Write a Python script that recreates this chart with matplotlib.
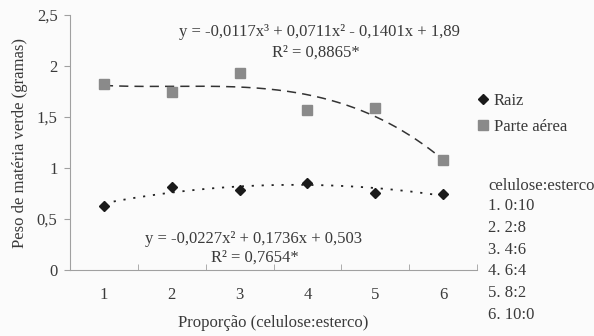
import numpy as np
import matplotlib
matplotlib.use("Agg")
import matplotlib.pyplot as plt
from matplotlib.ticker import FixedLocator

plt.rcParams["font.family"] = ["Liberation Serif", "DejaVu Serif"]

x = [1, 2, 3, 4, 5, 6]
raiz = [0.63, 0.81, 0.78, 0.85, 0.755, 0.745]
parte_aerea = [1.82, 1.75, 1.93, 1.57, 1.59, 1.08]
# coeficientes das linhas de tendência (como nas equações)
coef_aerea = [-0.0117, 0.0711, -0.1401, 1.89]
coef_raiz = [-0.0227, 0.1736, 0.503]
proporcoes = ["0:10", "2:8", "4:6", "6:4", "8:2", "10:0"]

txt = "#3a3a3a"
fs = 12
fig = plt.figure(figsize=(5.94, 3.36), dpi=100)
fig.patch.set_facecolor("#fbfbfb")
ax = fig.add_axes([70 / 594, 66 / 336, 407 / 594, 255 / 336])
ax.set_facecolor("#fbfbfb")

xs = np.linspace(1, 6, 200)
ax.plot(xs, np.polyval(coef_aerea, xs), ls=(0, (6, 4)), color="#333333", lw=1.1)
ax.plot(xs, np.polyval(coef_raiz, xs), ls=(0, (1.2, 4.3)), color="#222222", lw=1.3)
ax.plot(x, parte_aerea, ls="none", marker="s", ms=7, color="#8a8a8a",
        label="Parte aérea", zorder=3)
ax.plot(x, raiz, ls="none", marker="D", ms=5.5, color="#1a1a1a",
        label="Raiz", zorder=3)

ax.set_xlim(0.5, 6.5)
ax.set_ylim(0, 2.5)
ax.set_yticks([0, 0.5, 1, 1.5, 2, 2.5])
ax.set_yticklabels(["0", "0,5", "1", "1,5", "2", "2,5"])
ax.set_xticks(x)
ax.xaxis.set_minor_locator(FixedLocator([0.5, 1.5, 2.5, 3.5, 4.5, 5.5, 6.5]))
ax.tick_params(axis="x", which="major", length=0, pad=12, labelsize=fs, colors=txt)
ax.tick_params(axis="x", which="minor", length=4, direction="in", color="#a0a0a0")
ax.tick_params(axis="y", length=4, direction="out", color="#a0a0a0",
               labelsize=fs, colors=txt, pad=5)
for s in ["top", "right"]:
    ax.spines[s].set_visible(False)
for s in ["left", "bottom"]:
    ax.spines[s].set_color("#a0a0a0")

ax.set_ylabel("Peso de matéria verde (gramas)", fontsize=fs, color=txt, labelpad=6)
ax.set_xlabel("Proporção (celulose:esterco)", fontsize=fs, color=txt, labelpad=9)

ax.text(4.17, 2.33, "y = -0,0117x³ + 0,0711x² - 0,1401x + 1,89",
        ha="center", va="center", fontsize=fs, color=txt)
ax.text(4.13, 2.13, "R² = 0,8865*", ha="center", va="center",
        fontsize=fs, color=txt)
ax.text(3.21, 0.30, "y = -0,0227x² + 0,1736x + 0,503",
        ha="center", va="center", fontsize=fs, color=txt)
ax.text(3.23, 0.12, "R² = 0,7654*", ha="center", va="center",
        fontsize=fs, color=txt)

h, l = ax.get_legend_handles_labels()
leg = fig.legend(h[::-1], l[::-1], loc="upper left",
                 bbox_to_anchor=(472 / 594, 1 - 88 / 336), frameon=False,
                 fontsize=fs, handlelength=0.7, handletextpad=0.3,
                 labelspacing=0.6, labelcolor=txt, borderaxespad=0,
                 borderpad=0.3)

fig.text(488 / 594, 1 - 186 / 336, "celulose:esterco", fontsize=fs,
         color=txt, va="center")
for i, p in enumerate(proporcoes):
    fig.text(488 / 594, 1 - (206 + i * 21.8) / 336, f"{i + 1}. {p}",
             fontsize=fs, color=txt, va="center")

fig.savefig("out.png", dpi=100, facecolor=fig.get_facecolor())
